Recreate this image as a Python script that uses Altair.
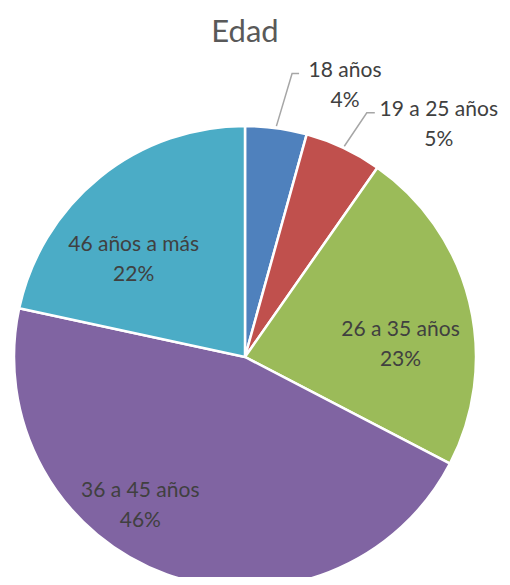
import math
import altair as alt
import pandas as pd

# ---- data ----
categories = ["18 años", "19 a 25 años", "26 a 35 años", "36 a 45 años", "46 años a más"]
values = [4.3, 5.4, 22.9, 45.7, 21.6]
colors = ["#4F81BD", "#C0504D", "#9BBB59", "#8064A2", "#4BACC6"]

# ---- layout ----
W, H = 474, 519
PAD = {"left": 0, "top": 50, "right": 20, "bottom": 0}
CX, CY = 237, 299          # pie centre inside the plot area
R = 231                    # pie radius
FONT = "Lato"

# label placement: distance along the slice's middle angle plus a nudge
label_layout = {
    "18 años":       dict(r=275, dx=63, dy=1),
    "19 a 25 años":  dict(r=260, dx=83, dy=3),
    "26 a 35 años":  dict(r=155, dx=5, dy=25),
    "36 a 45 años":  dict(r=182, dx=-43, dy=-22),
    "46 años a más": dict(r=147, dx=-19, dy=17),
}
# leader lines (start on the rim, elbow and end relative to label centre)
leader_layout = {
    "18 años":      dict(elbow=(-53, -12), end=(-46, -12)),
    "19 a 25 años": dict(elbow=(-72, -12), end=(-64, -12)),
}

total = sum(values)
df = pd.DataFrame({"cat": categories, "value": values, "idx": list(range(len(values)))})

# label positions derived from the slices' middle angles
rows, lrows = [], []
cum = 0.0
for c, v in zip(categories, values):
    mid = (cum + v / 2) / total * 2 * math.pi
    cum += v
    lay = label_layout[c]
    lx = CX + lay["r"] * math.sin(mid) + lay["dx"]
    ly = CY - lay["r"] * math.cos(mid) + lay["dy"]
    rows.append({"cat": c, "pct": f"{round(v)}%", "lx": lx, "ly": ly})
    if c in leader_layout:
        ld = leader_layout[c]
        rr = R + 2
        lrows.append({"cat": c, "k": 0, "x": CX + rr * math.sin(mid), "y": CY - rr * math.cos(mid)})
        lrows.append({"cat": c, "k": 1, "x": lx + ld["elbow"][0], "y": ly + ld["elbow"][1]})
        lrows.append({"cat": c, "k": 2, "x": lx + ld["end"][0], "y": ly + ld["end"][1]})
labels = pd.DataFrame(rows)
leaders = pd.DataFrame(lrows)

arcs = alt.Chart(df).mark_arc(outerRadius=R, stroke="white", strokeWidth=2.5).encode(
    theta=alt.Theta("value:Q", stack=True),
    order=alt.Order("idx:Q"),
    color=alt.Color("cat:N", scale=alt.Scale(domain=categories, range=colors), legend=None),
    x=alt.value(CX),
    y=alt.value(CY),
)

lead = alt.Chart(leaders).mark_line(color="#A6A6A6", strokeWidth=1.5).encode(
    x=alt.X("x:Q", scale=None),
    y=alt.Y("y:Q", scale=None),
    detail="cat:N",
    order="k:Q",
)

txt_kw = dict(font=FONT, fontSize=21, color="#404040", align="center", baseline="middle")
names = alt.Chart(labels).mark_text(dy=-15, **txt_kw).encode(
    x=alt.X("lx:Q", scale=None), y=alt.Y("ly:Q", scale=None), text="cat:N"
)
pcts = alt.Chart(labels).mark_text(dy=15, **txt_kw).encode(
    x=alt.X("lx:Q", scale=None), y=alt.Y("ly:Q", scale=None), text="pct:N"
)

chart = alt.layer(arcs, lead, names, pcts).properties(
    width=W,
    height=H,
    title=alt.Title("Edad", fontSize=31, font=FONT, color="#595959", fontWeight="normal",
                    anchor="middle", offset=9),
    autosize=alt.AutoSizeParams(type="none"),
    padding=PAD,
).configure_view(stroke=None)

chart.save("out.html", embed_options={"renderer": "svg", "actions": False})
